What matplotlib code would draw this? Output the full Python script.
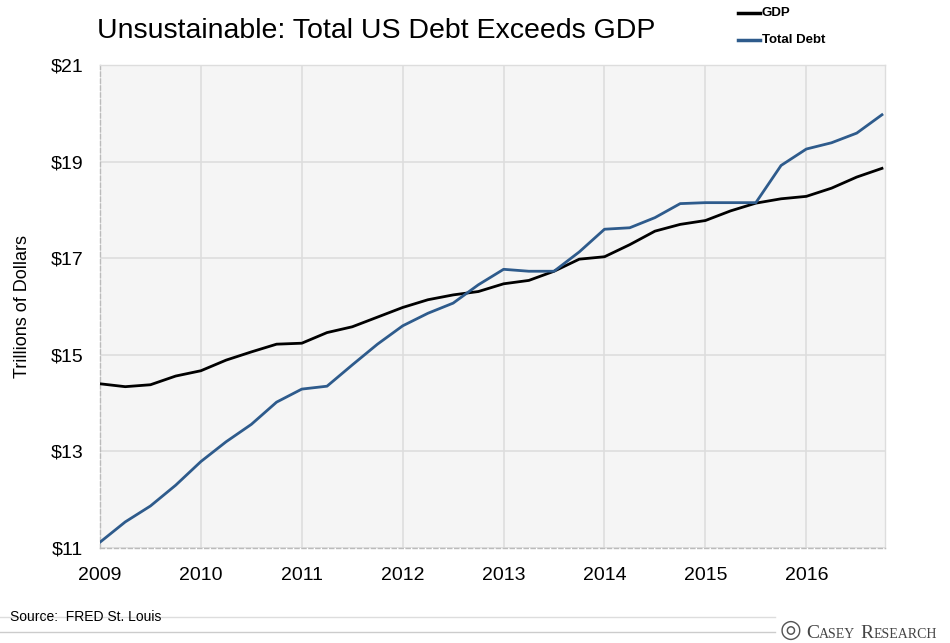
import matplotlib
matplotlib.use("Agg")
import matplotlib.pyplot as plt
from matplotlib.lines import Line2D

# Data (quarterly, 2009 Q1 .. 2016 Q4), trillions of dollars
years = [2009 + q / 4 for q in range(32)]
gdp = [14.40, 14.34, 14.38, 14.56, 14.67, 14.89, 15.06, 15.22,
       15.24, 15.46, 15.58, 15.78, 15.98, 16.14, 16.24, 16.31,
       16.47, 16.54, 16.73, 16.98, 17.03, 17.28, 17.56, 17.70,
       17.78, 17.98, 18.14, 18.23, 18.28, 18.45, 18.68, 18.86]
debt = [11.12, 11.54, 11.87, 12.30, 12.79, 13.20, 13.56, 14.02,
        14.29, 14.35, 14.79, 15.22, 15.60, 15.86, 16.07, 16.45,
        16.77, 16.73, 16.73, 17.13, 17.60, 17.63, 17.84, 18.13,
        18.15, 18.15, 18.15, 18.92, 19.26, 19.39, 19.59, 19.97]
xticks = [2009, 2010, 2011, 2012, 2013, 2014, 2015, 2016]
yticks = [11, 13, 15, 17, 19, 21]
ytick_labels = ["$11", "$13", "$15", "$17", "$19", "$21"]

plt.rcParams["font.family"] = ["Liberation Sans", "DejaVu Sans"]

fig = plt.figure(figsize=(9.5, 6.43), dpi=100)
ax = fig.add_axes([100 / 950, 1 - 548 / 643, 785 / 950, 483 / 643])
ax.set_facecolor("#f5f5f5")

ax.plot(years, gdp, color="black", lw=2.0, label="GDP", zorder=3)
ax.plot(years, debt, color="#2e5b8c", lw=2.0, label="Total Debt", zorder=3)

ax.set_xlim(2009, 2016.78)
ax.set_ylim(11, 21)
ax.set_xticks(xticks)
ax.set_xticklabels([str(x) for x in xticks], fontsize=14)
ax.set_yticks(yticks)
ax.set_yticklabels(ytick_labels, fontsize=14)
ax.tick_params(length=0, pad=12)
ax.tick_params(axis="x", pad=14)
ax.grid(True, color="#dddddd", lw=1.2, zorder=0)
ax.set_axisbelow(True)

for s in ["top", "right"]:
    ax.spines[s].set_color("#dddddd")
    ax.spines[s].set_linewidth(1.0)
for s in ["left", "bottom"]:
    ax.spines[s].set_color("#bbbbbb")
    ax.spines[s].set_linewidth(1.0)
    ax.spines[s].set_linestyle((0, (3, 2)))

ax.set_ylabel("Trillions of Dollars", fontsize=13, labelpad=14)

fig.text(97 / 950, 1 - 31 / 643, "Unsustainable: Total US Debt Exceeds GDP",
         fontsize=20.5, va="center", ha="left")

# legend
for yy, col, lab in [(13, "black", "GDP"), (40, "#2e5b8c", "Total Debt")]:
    fig.add_artist(Line2D([738 / 950, 760 / 950], [1 - yy / 643, 1 - yy / 643],
                          color=col, lw=2.5))
    fig.text(762 / 950, 1 - yy / 643, lab, fontsize=9.5, fontweight="bold",
             va="center", ha="left")

# footer
fig.add_artist(Line2D([0, 775 / 950], [1 - 617 / 643] * 2, color="#dddddd", lw=1))
fig.add_artist(Line2D([0, 775 / 950], [1 - 632 / 643] * 2, color="#cccccc", lw=1))
fig.text(10 / 950, 1 - 617 / 643, "Source:  FRED St. Louis", fontsize=10,
         va="center", ha="left")

serif = ["Liberation Serif", "DejaVu Serif"]
fig.text(780 / 950, 1 - 630 / 643, "\u25CE", fontsize=18, color="#555555",
         va="center", ha="left", family=["DejaVu Sans"])

fig.canvas.draw()
renderer = fig.canvas.get_renderer()
x0 = 806.0
for txt, fs in [("C", 14), ("ASEY", 10), ("R", 14), ("ESEARCH", 10)]:
    t = fig.text(x0 / 950, 1 - 638 / 643, txt, fontsize=fs, color="#444444",
                 va="baseline", ha="left", family=serif)
    bb = t.get_window_extent(renderer)
    x0 += bb.width + (5 if txt == "ASEY" else 0)

fig.savefig("out.png", dpi=100)
